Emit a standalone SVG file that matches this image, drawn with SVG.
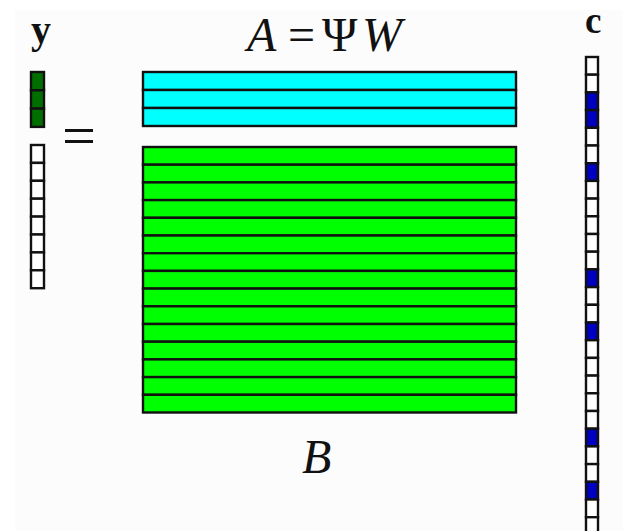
<svg xmlns="http://www.w3.org/2000/svg" width="623" height="531" viewBox="0 0 623 531">
<style>
.cell{stroke:#111;stroke-width:2.4}
.w{fill:#ffffff}
.dg{fill:#006f00}
.cy{fill:#00ffff}
.gr{fill:#00ff00}
.bl{fill:#0000c0}
.math{font-family:"Liberation Serif","DejaVu Serif",serif;fill:#111}
.it{font-style:italic}
.bold{font-weight:bold}
</style>
<rect x="0" y="0" width="623" height="531" fill="#ffffff"/>
<rect x="15" y="10" width="608" height="521" fill="#fcfcfc"/>

<g id="label-y"><text class="math bold" x="31" y="43" font-size="40">y</text></g>
<g id="label-c"><text class="math bold" x="585" y="33" font-size="37">c</text></g>
<g id="label-A"><text class="math" y="51" font-size="48"><tspan class="it" x="247">A</tspan><tspan x="288">=</tspan><tspan x="322">Ψ</tspan><tspan class="it" x="362">W</tspan></text></g>
<g id="label-B"><text class="math it" x="302" y="473" font-size="48">B</text></g>

<g id="vector-y">
<rect class="cell dg" x="31" y="72" width="13" height="18.3"/>
<rect class="cell dg" x="31" y="90.3" width="13" height="18.3"/>
<rect class="cell dg" x="31" y="108.6" width="13" height="18.3"/>
<rect class="cell w" x="31" y="145" width="13" height="17.9"/>
<rect class="cell w" x="31" y="162.9" width="13" height="17.9"/>
<rect class="cell w" x="31" y="180.8" width="13" height="17.9"/>
<rect class="cell w" x="31" y="198.7" width="13" height="17.9"/>
<rect class="cell w" x="31" y="216.6" width="13" height="17.9"/>
<rect class="cell w" x="31" y="234.5" width="13" height="17.9"/>
<rect class="cell w" x="31" y="252.4" width="13" height="17.9"/>
<rect class="cell w" x="31" y="270.3" width="13" height="17.9"/>
</g>

<g id="equals">
<rect x="65" y="129" width="28" height="3" fill="#111"/>
<rect x="65" y="140" width="28" height="3" fill="#111"/>
</g>

<g id="matrix-A">
<rect class="cell cy" x="143" y="72" width="373" height="18"/>
<rect class="cell cy" x="143" y="90" width="373" height="18"/>
<rect class="cell cy" x="143" y="108" width="373" height="18"/>
</g>

<g id="matrix-B">
<rect class="cell gr" x="143" y="147" width="373" height="17.7"/>
<rect class="cell gr" x="143" y="164.7" width="373" height="17.7"/>
<rect class="cell gr" x="143" y="182.4" width="373" height="17.7"/>
<rect class="cell gr" x="143" y="200.1" width="373" height="17.7"/>
<rect class="cell gr" x="143" y="217.8" width="373" height="17.7"/>
<rect class="cell gr" x="143" y="235.5" width="373" height="17.7"/>
<rect class="cell gr" x="143" y="253.2" width="373" height="17.7"/>
<rect class="cell gr" x="143" y="270.9" width="373" height="17.7"/>
<rect class="cell gr" x="143" y="288.6" width="373" height="17.7"/>
<rect class="cell gr" x="143" y="306.3" width="373" height="17.7"/>
<rect class="cell gr" x="143" y="324" width="373" height="17.7"/>
<rect class="cell gr" x="143" y="341.7" width="373" height="17.7"/>
<rect class="cell gr" x="143" y="359.4" width="373" height="17.7"/>
<rect class="cell gr" x="143" y="377.1" width="373" height="17.7"/>
<rect class="cell gr" x="143" y="394.8" width="373" height="17.7"/>
</g>

<g id="vector-c">
<rect class="cell w" x="586" y="57" width="12" height="17.7"/>
<rect class="cell w" x="586" y="74.7" width="12" height="17.7"/>
<rect class="cell bl" x="586" y="92.4" width="12" height="17.7"/>
<rect class="cell bl" x="586" y="110.1" width="12" height="17.7"/>
<rect class="cell w" x="586" y="127.8" width="12" height="17.7"/>
<rect class="cell w" x="586" y="145.5" width="12" height="17.7"/>
<rect class="cell bl" x="586" y="163.2" width="12" height="17.7"/>
<rect class="cell w" x="586" y="180.9" width="12" height="17.7"/>
<rect class="cell w" x="586" y="198.6" width="12" height="17.7"/>
<rect class="cell w" x="586" y="216.3" width="12" height="17.7"/>
<rect class="cell w" x="586" y="234" width="12" height="17.7"/>
<rect class="cell w" x="586" y="251.7" width="12" height="17.7"/>
<rect class="cell bl" x="586" y="269.4" width="12" height="17.7"/>
<rect class="cell w" x="586" y="287.1" width="12" height="17.7"/>
<rect class="cell w" x="586" y="304.8" width="12" height="17.7"/>
<rect class="cell bl" x="586" y="322.5" width="12" height="17.7"/>
<rect class="cell w" x="586" y="340.2" width="12" height="17.7"/>
<rect class="cell w" x="586" y="357.9" width="12" height="17.7"/>
<rect class="cell w" x="586" y="375.6" width="12" height="17.7"/>
<rect class="cell w" x="586" y="393.3" width="12" height="17.7"/>
<rect class="cell w" x="586" y="411" width="12" height="17.7"/>
<rect class="cell bl" x="586" y="428.7" width="12" height="17.7"/>
<rect class="cell w" x="586" y="446.4" width="12" height="17.7"/>
<rect class="cell w" x="586" y="464.1" width="12" height="17.7"/>
<rect class="cell bl" x="586" y="481.8" width="12" height="17.7"/>
<rect class="cell w" x="586" y="499.5" width="12" height="17.7"/>
<rect class="cell w" x="586" y="517.2" width="12" height="17.7"/>
</g>
</svg>
